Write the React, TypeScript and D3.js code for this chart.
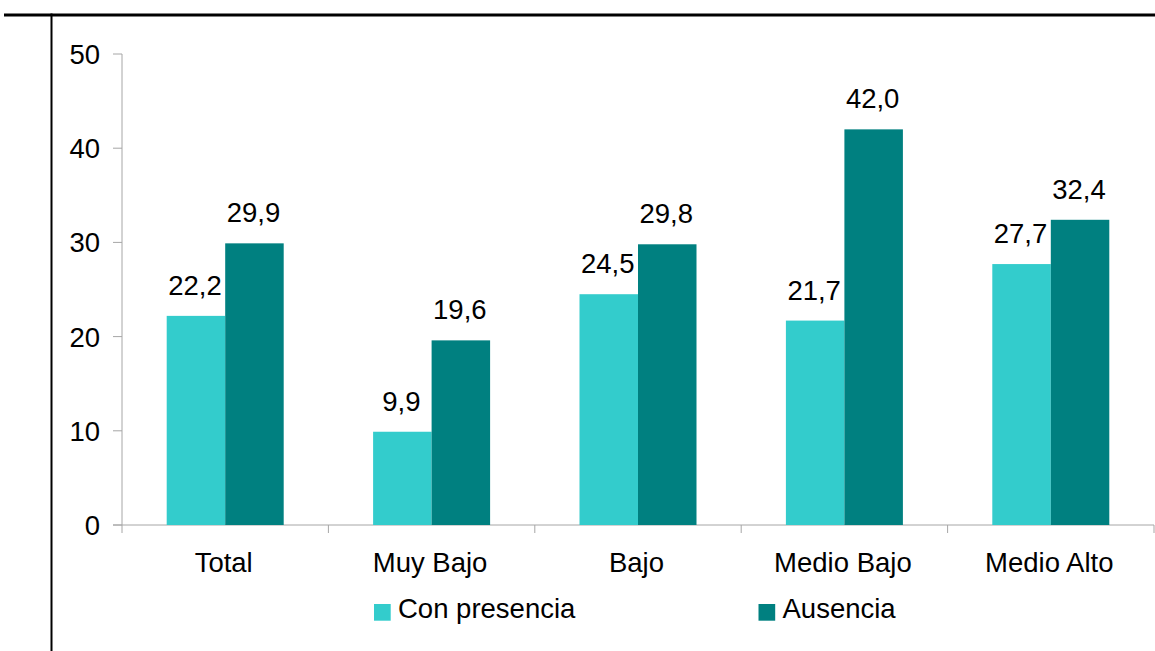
import React from "react";
import * as d3 from "d3";

const categories = ["Total", "Muy Bajo", "Bajo", "Medio Bajo", "Medio Alto"];
const seriesNames = ["Con presencia", "Ausencia"];
const conPresencia = [22.2, 9.9, 24.5, 21.7, 27.7];
const ausencia = [29.9, 19.6, 29.8, 42.0, 32.4];
const yTicks = [0, 10, 20, 30, 40, 50];
const colors = ["#33CCCC", "#008080"];

const W = 1155;
const H = 651;
const left = 122;
const right = 1154;
const y0 = 525;
const yTop = 54;
const font = "'Liberation Sans', Arial, sans-serif";
const fs = 27.5;

export default function App() {
  const x = d3.scaleBand<string>().domain(categories).range([left, right]).paddingInner(0).paddingOuter(0);
  const y = d3.scaleLinear().domain([0, 50]).range([y0, yTop]);
  const bw = x.bandwidth();
  const barW = 58.5;
  const inner = d3.scaleBand<string>().domain(seriesNames).range([bw / 2 - barW, bw / 2 + barW]);
  const series = [conPresencia, ausencia];
  const fmt = (v: number) => v.toFixed(1).replace(".", ",");
  const axisColor = "#a6a6a6";

  return (
    <svg width={W} height={H} style={{ position: "absolute", left: 0, top: 0 }} fontFamily={font}>
      <rect x={0} y={0} width={W} height={H} fill="#fff" />
      <line x1={4} x2={W} y1={15} y2={15} stroke="#000" strokeWidth={3} />
      <line x1={51.5} x2={51.5} y1={13.5} y2={H} stroke="#000" strokeWidth={2} />
      {/* y axis */}
      <line x1={left} x2={left} y1={yTop} y2={533} stroke={axisColor} strokeWidth={1} />
      {yTicks.map((t) => (
        <g key={t}>
          <line x1={113} x2={left} y1={y(t)} y2={y(t)} stroke={axisColor} />
          <text x={100} y={y(t)} dy="0.36em" textAnchor="end" fontSize={fs} fill="#000">
            {t}
          </text>
        </g>
      ))}
      {/* x axis */}
      <line x1={113} x2={right} y1={y0} y2={y0} stroke={axisColor} />
      {categories.map((c) => (
        <line key={c} x1={(x(c) as number) + bw} x2={(x(c) as number) + bw} y1={y0} y2={533} stroke={axisColor} />
      ))}
      {/* bars */}
      {series.map((vals, si) =>
        categories.map((c, i) => {
          const bx = (x(c) as number) + (inner(seriesNames[si]) as number);
          const by = y(vals[i]);
          return (
            <g key={c + si}>
              <rect x={bx} y={by} width={inner.bandwidth()} height={y0 - by} fill={colors[si]} />
              <text x={bx + inner.bandwidth() / 2 - 1} y={by - 21} textAnchor="middle" fontSize={fs} fill="#000">
                {fmt(vals[i])}
              </text>
            </g>
          );
        })
      )}
      {categories.map((c) => (
        <text key={c} x={(x(c) as number) + bw / 2 - 1.5} y={572} textAnchor="middle" fontSize={fs} fill="#000">
          {c}
        </text>
      ))}
      {/* legend */}
      {seriesNames.map((s, i) => {
        const lx = i === 0 ? 374 : 758.5;
        return (
          <g key={s}>
            <rect x={lx} y={604} width={16.7} height={16.7} fill={colors[i]} />
            <text x={lx + 24} y={617.5} fontSize={fs} fill="#000">
              {s}
            </text>
          </g>
        );
      })}
    </svg>
  );
}
